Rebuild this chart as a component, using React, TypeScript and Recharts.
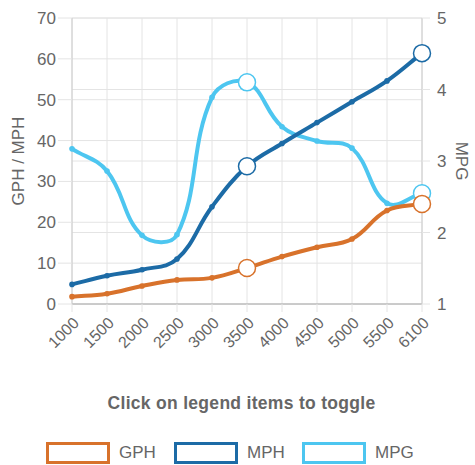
import React from "react";
import { LineChart, Line, XAxis, YAxis, CartesianGrid } from "recharts";

const rpm = ["1000", "1500", "2000", "2500", "3000", "3500", "4000", "4500", "5000", "5500", "6100"];
const gph = [1.8, 2.5, 4.4, 5.9, 6.4, 8.8, 11.6, 13.9, 15.9, 22.9, 24.5];
const mph = [4.8, 6.9, 8.4, 11.0, 23.8, 33.7, 39.3, 44.4, 49.5, 54.6, 61.4];
const mpg = [3.17, 2.86, 1.96, 1.97, 3.89, 4.1, 3.48, 3.28, 3.18, 2.41, 2.55];
const leftTicks = [0, 10, 20, 30, 40, 50, 60, 70];
const rightTicks = [1, 2, 3, 4, 5];
const highlighted = ["3500", "6100"];

const series = [
    { key: "GPH", color: "#D8722B" },
    { key: "MPH", color: "#1C6BA6" },
    { key: "MPG", color: "#4DC6F0" },
];

const data = rpm.map((r, i) => ({ rpm: r, GPH: gph[i], MPH: mph[i], MPG: mpg[i] }));

const FONT = '"Liberation Sans", Arial, sans-serif';
const TEXT = "#666";
const GRID = "#e4e4e4";

// spline like chart.js (tension 0.4)
const splineCurve = (context: any) => {
    let pts: number[][] = [];
    return {
        areaStart() {},
        areaEnd() {},
        lineStart() {
            pts = [];
        },
        point(x: number, y: number) {
            pts.push([+x, +y]);
        },
        lineEnd() {
            if (!pts.length) return;
            const t = 0.4;
            const ctrl = pts.map((p, i) => {
                const prev = pts[i - 1] || p;
                const next = pts[i + 1] || p;
                const d01 = Math.hypot(p[0] - prev[0], p[1] - prev[1]);
                const d12 = Math.hypot(next[0] - p[0], next[1] - p[1]);
                const sum = d01 + d12 || 1;
                const fa = (t * d01) / sum;
                const fb = (t * d12) / sum;
                return {
                    prev: [p[0] - fa * (next[0] - prev[0]), p[1] - fa * (next[1] - prev[1])],
                    next: [p[0] + fb * (next[0] - prev[0]), p[1] + fb * (next[1] - prev[1])],
                };
            });
            context.moveTo(pts[0][0], pts[0][1]);
            for (let i = 1; i < pts.length; i++) {
                const a = ctrl[i - 1].next;
                const b = ctrl[i].prev;
                context.bezierCurveTo(a[0], a[1], b[0], b[1], pts[i][0], pts[i][1]);
            }
        },
    };
};

const makeDot = (color: string) => (props: any) => {
    const { cx, cy, payload, index } = props;
    if (highlighted.includes(payload.rpm)) {
        return <circle key={index} cx={cx} cy={cy} r={8.5} fill="#fff" stroke={color} strokeWidth={1.5} />;
    }
    return <circle key={index} cx={cx} cy={cy} r={2.8} fill={color} />;
};

const XTick = (props: any) => {
    const { x, y, payload } = props;
    return (
        <text
            x={x + 4}
            y={y + 6}
            transform={`rotate(-45, ${x + 4}, ${y + 6})`}
            textAnchor="end"
            dy="0.35em"
            fill={TEXT}
            fontSize={16}
            fontFamily={FONT}
        >
            {payload.value}
        </text>
    );
};

const App: React.FC = () => {
    return (
        <div style={{ position: "absolute", left: 0, top: 0, width: 475, height: 465, background: "#fff" }}>
            <LineChart
                width={475}
                height={370}
                data={data}
                margin={{ top: 18, right: 0, left: 0, bottom: 0 }}
            >
                <CartesianGrid yAxisId="left" stroke={GRID} />
                <CartesianGrid yAxisId="right" stroke={GRID} vertical={false} />
                <XAxis
                    dataKey="rpm"
                    height={66}
                    interval={0}
                    stroke="#aaa"
                    tickLine={{ stroke: GRID }}
                    tickSize={8}
                    tick={<XTick />}
                />
                <YAxis
                    yAxisId="left"
                    width={72}
                    domain={[0, 70]}
                    ticks={leftTicks}
                    stroke="#ccc"
                    tickLine={{ stroke: GRID }}
                    tickSize={14}
                    tickMargin={2}
                    tick={{ fill: TEXT, fontSize: 17, fontFamily: FONT }}
                    label={(p: any) => {
                        const vb = p.viewBox;
                        const cx = vb.x + 18;
                        const cy = vb.y + vb.height / 2;
                        return (
                            <text x={cx} y={cy} transform={`rotate(-90, ${cx}, ${cy})`} textAnchor="middle" dy="0.35em" fill={TEXT} fontSize={17} fontFamily={FONT}>
                                GPH / MPH
                            </text>
                        );
                    }}
                />
                <YAxis
                    yAxisId="right"
                    orientation="right"
                    width={53}
                    domain={[1, 5]}
                    ticks={rightTicks}
                    stroke="#ccc"
                    tickLine={{ stroke: GRID }}
                    tickSize={8}
                    tickMargin={7}
                    tick={{ fill: TEXT, fontSize: 17, fontFamily: FONT }}
                    label={(p: any) => {
                        const vb = p.viewBox;
                        const cx = vb.x + 40;
                        const cy = vb.y + vb.height / 2;
                        return (
                            <text x={cx} y={cy} transform={`rotate(90, ${cx}, ${cy})`} textAnchor="middle" dy="0.35em" fill={TEXT} fontSize={17} fontFamily={FONT}>
                                MPG
                            </text>
                        );
                    }}
                />
                <Line
                    yAxisId="right"
                    dataKey="MPG"
                    type={splineCurve as any}
                    stroke={series[2].color}
                    strokeWidth={4}
                    dot={makeDot(series[2].color)}
                    isAnimationActive={false}
                />
                <Line
                    yAxisId="left"
                    dataKey="MPH"
                    type={splineCurve as any}
                    stroke={series[1].color}
                    strokeWidth={4}
                    dot={makeDot(series[1].color)}
                    isAnimationActive={false}
                />
                <Line
                    yAxisId="left"
                    dataKey="GPH"
                    type={splineCurve as any}
                    stroke={series[0].color}
                    strokeWidth={4}
                    dot={makeDot(series[0].color)}
                    isAnimationActive={false}
                />
            </LineChart>
            <div
                style={{
                    position: "absolute",
                    top: 393,
                    left: 0,
                    width: 483,
                    textAlign: "center",
                    fontFamily: FONT,
                    fontWeight: "bold",
                    fontSize: 17.5,
                    letterSpacing: 0.3,
                    color: TEXT,
                }}
            >
                Click on legend items to toggle
            </div>
            <div
                style={{
                    position: "absolute",
                    top: 442,
                    left: 46,
                    display: "flex",
                    alignItems: "center",
                    fontFamily: FONT,
                    fontSize: 17,
                    color: TEXT,
                }}
            >
                {series.map((s) => (
                    <div key={s.key} style={{ display: "flex", alignItems: "center", marginRight: 11 }}>
                        <div
                            style={{
                                width: 58,
                                height: 16,
                                border: `3px solid ${s.color}`,
                                background: "#fff",
                                marginRight: 9,
                            }}
                        />
                        <span style={{ width: 44 }}>{s.key}</span>
                    </div>
                ))}
            </div>
        </div>
    );
};

export default App;
